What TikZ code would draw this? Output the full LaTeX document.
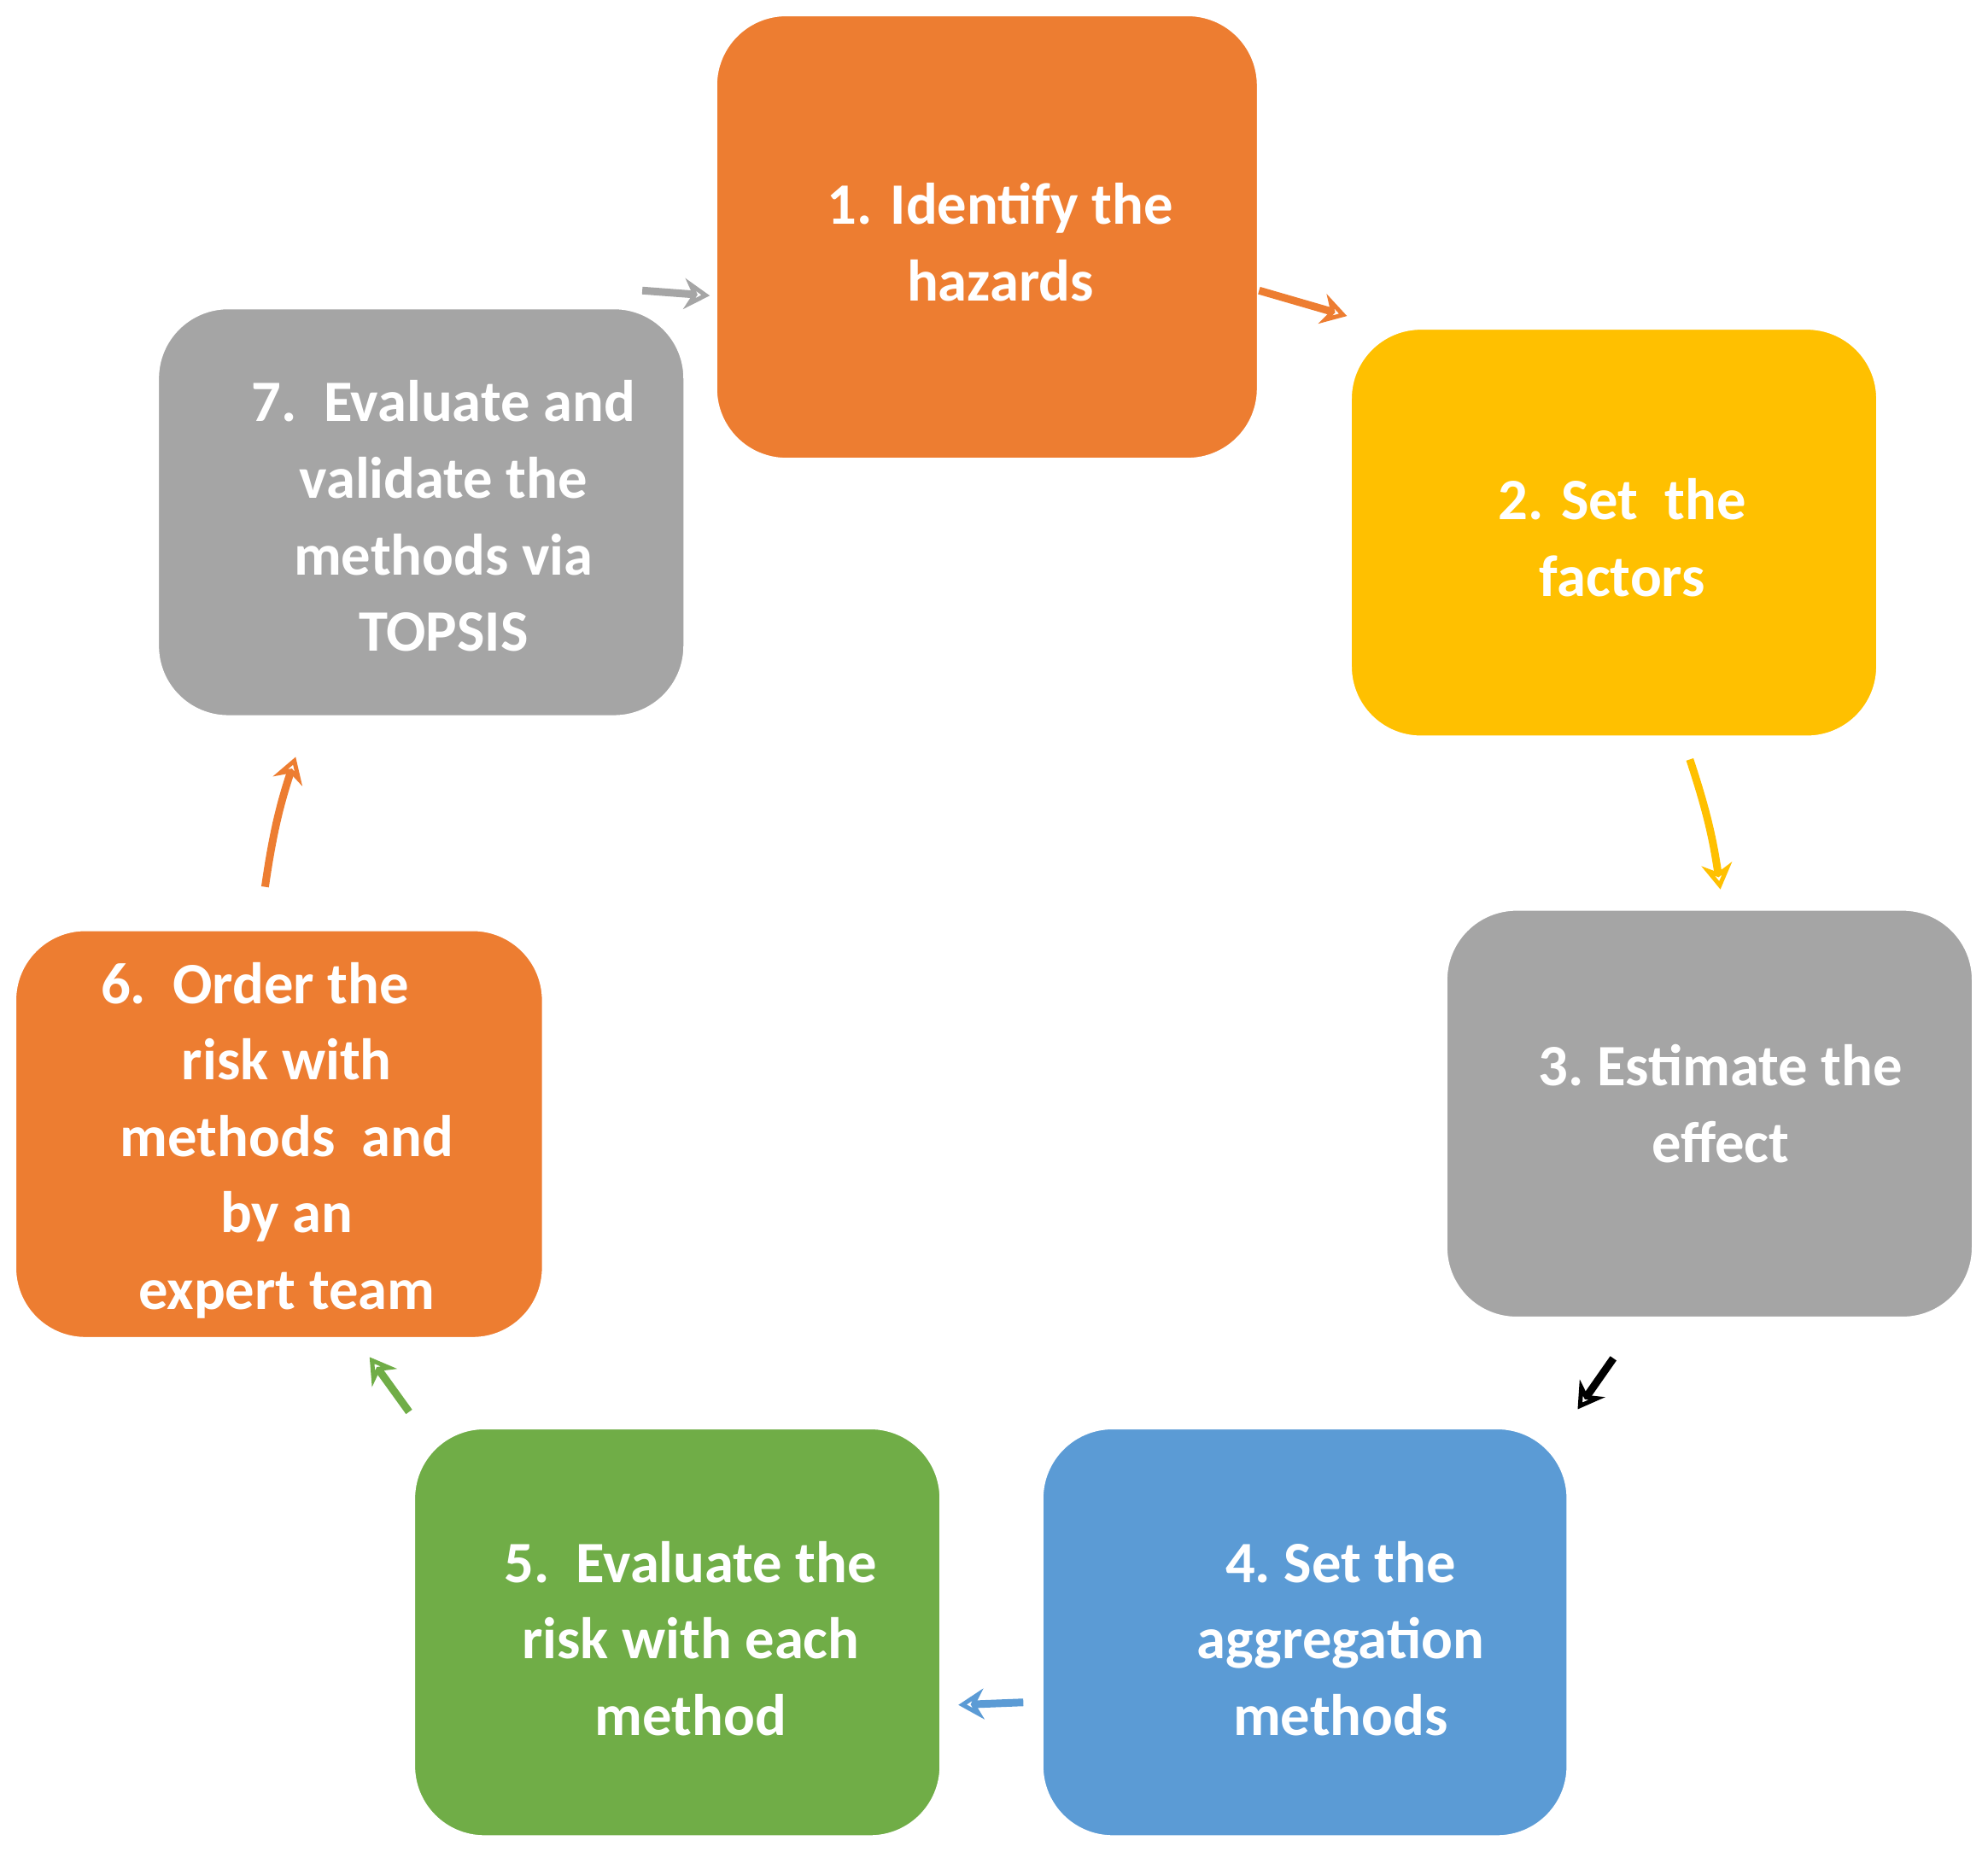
\documentclass[tikz,border=0pt]{standalone}
\usepackage{fontspec}
\setmainfont{Carlito}
\usetikzlibrary{arrows.meta}
\definecolor{cor}{HTML}{ED7D31}
\definecolor{cye}{HTML}{FFC000}
\definecolor{cgr}{HTML}{A5A5A5}
\definecolor{cbl}{HTML}{5B9BD5}
\definecolor{cgn}{HTML}{70AD47}
\begin{document}
\begin{tikzpicture}[x=1pt,y=-1pt,
 box/.style={draw=white,line width=1.5pt,rounded corners=55pt,text=white,font=\fontsize{46}{60}\selectfont\bfseries,align=center},
 arr/.style={line width=6pt,-{Stealth[open,length=20pt,width=24pt,line width=6pt]}}]
\useasboundingbox (0,0) rectangle (1560,1453);
\filldraw[box,fill=cor] (562,12) rectangle (987,360);
\filldraw[box,fill=cye] (1060,258) rectangle (1473,578);
\filldraw[box,fill=cgr] (1135,714) rectangle (1548,1034);
\filldraw[box,fill=cbl] (818,1121) rectangle (1230,1441);
\filldraw[box,fill=cgn] (325,1121) rectangle (738,1441);
\filldraw[box,fill=cor] (12,730) rectangle (426,1050);
\filldraw[box,fill=cgr] (124,242) rectangle (537,562);
\node[box,draw=none] (t1) at (785,190) {1. Identify the\\hazards};
\node[box,draw=none] (t2) at (1273,422) {2. Set\ \ the\\factors};
\node[box,draw=none] (t3) at (1350,866) {3.\ Estimate the\\effect};
\node[box,draw=none] (t4) at (1052,1286) {4.\ Set the\\aggregation\\methods};
\node[box,draw=none] (t5) at (542,1286) {5.\ \ Evaluate the\\risk with each\\method};
\node[box,draw=none] (t6) at (225,895) {6.\ \ Order the\hspace*{50pt}\\risk with\hspace*{25pt}\\methods\ \ and\\by an\hspace*{25pt}\\expert team};
\node[box,draw=none] (t7) at (348,405) {7.\ \ Evaluate and\\validate the\\methods via\\TOPSIS};
\coordinate (a1) at (988,228); \coordinate (b1) at (1057,248);
\coordinate (a2) at (1326,596); \coordinate (b2) at (1350,698);
\coordinate (a3) at (1266,1066); \coordinate (b3) at (1238,1106);
\coordinate (a4) at (803,1336); \coordinate (b4) at (752,1338);
\coordinate (a5) at (321,1108); \coordinate (b5) at (290,1065);
\coordinate (a6) at (208,696); \coordinate (b6) at (232,594);
\coordinate (a7) at (504,228); \coordinate (b7) at (557,232);
\draw[arr,cor] (a1) -- (b1);
\draw[arr,cye] (a2) to[bend left=5] (b2);
\draw[arr,black] (a3) -- (b3);
\draw[arr,cbl] (a4) -- (b4);
\draw[arr,cgn] (a5) -- (b5);
\draw[arr,cor] (a6) to[bend left=5] (b6);
\draw[arr,cgr] (a7) -- (b7);
\end{tikzpicture}
\end{document}
